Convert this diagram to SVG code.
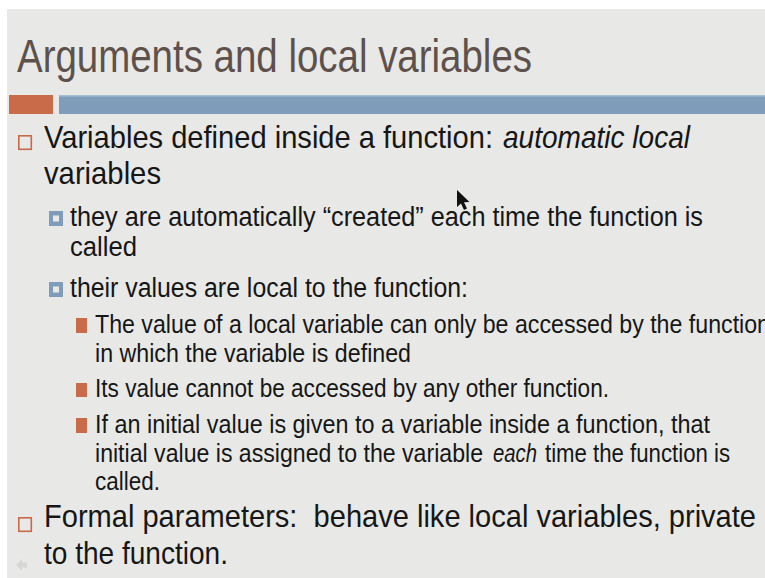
<svg xmlns="http://www.w3.org/2000/svg" width="765" height="578" viewBox="0 0 765 578">
<style>
text{font-family:"Liberation Sans","Noto Sans",Arial,sans-serif;fill:#161616}
.title{font-size:47px;fill:#5e514c}
.l1{font-size:32px}
.l2{font-size:27px}
.l3{font-size:25px}
.it{font-style:italic}
.b1{fill:none;stroke:#c8694a;stroke-width:1.6}
.b2{fill:#7f9dbb}
.b2i{fill:#e8e9e6}
.b3{fill:#c96a49}
</style>
<rect x="0" y="0" width="765" height="578" fill="#ffffff"/>
<rect x="7" y="9" width="758" height="569" fill="#e8e9e6"/>
<g id="title">
<text class="title" x="17" y="72" textLength="515" lengthAdjust="spacingAndGlyphs">Arguments and local variables</text>
</g>
<g id="bars">
<rect x="9" y="95" width="44" height="19" fill="#c96a49"/>
<rect x="59" y="95" width="706" height="19" fill="#7f9dbb"/>
<rect x="59" y="95" width="706" height="1.5" fill="#a7bdd2"/>
</g>
<g id="bullet1">
<rect class="b1" x="18.8" y="135.8" width="12.5" height="13.5"/>
<text class="l1" x="44" y="148" textLength="449" lengthAdjust="spacingAndGlyphs">Variables defined inside a function:</text>
<text class="l1 it" x="503" y="148" textLength="187" lengthAdjust="spacingAndGlyphs">automatic local</text>
<text class="l1" x="44" y="184" textLength="117" lengthAdjust="spacingAndGlyphs">variables</text>
</g>
<g id="bullet1-1">
<rect class="b2" x="49" y="211" width="14" height="15"/>
<rect class="b2i" x="53" y="215.5" width="6" height="6"/>
<text class="l2" x="70" y="226" textLength="633" lengthAdjust="spacingAndGlyphs">they are automatically “created” each time the function is</text>
<text class="l2" x="70" y="256" textLength="67" lengthAdjust="spacingAndGlyphs">called</text>
</g>
<g id="bullet1-2">
<rect class="b2" x="49" y="282" width="14" height="15"/>
<rect class="b2i" x="53" y="286.5" width="6" height="6"/>
<text class="l2" x="70" y="297" textLength="398" lengthAdjust="spacingAndGlyphs">their values are local to the function:</text>
</g>
<g id="bullet1-2-1">
<rect class="b3" x="76" y="318" width="11" height="15"/>
<text class="l3" x="95" y="333" textLength="675" lengthAdjust="spacingAndGlyphs">The value of a local variable can only be accessed by the function</text>
<text class="l3" x="95" y="362" textLength="316" lengthAdjust="spacingAndGlyphs">in which the variable is defined</text>
</g>
<g id="bullet1-2-2">
<rect class="b3" x="76" y="383" width="11" height="14"/>
<text class="l3" x="95" y="397" textLength="514" lengthAdjust="spacingAndGlyphs">Its value cannot be accessed by any other function.</text>
</g>
<g id="bullet1-2-3">
<rect class="b3" x="76" y="418" width="11" height="15"/>
<text class="l3" x="95" y="433" textLength="615" lengthAdjust="spacingAndGlyphs">If an initial value is given to a variable inside a function, that</text>
<text class="l3" x="95" y="462" textLength="388" lengthAdjust="spacingAndGlyphs">initial value is assigned to the variable</text>
<text class="l3 it" x="493" y="462" textLength="44" lengthAdjust="spacingAndGlyphs">each</text>
<text class="l3" x="545" y="462" textLength="185" lengthAdjust="spacingAndGlyphs">time the function is</text>
<text class="l3" x="95" y="490" textLength="65" lengthAdjust="spacingAndGlyphs">called.</text>
</g>
<g id="bullet2">
<rect class="b1" x="18.8" y="517.8" width="12.5" height="13.5"/>
<text class="l1" x="44" y="527" textLength="712" lengthAdjust="spacingAndGlyphs" xml:space="preserve">Formal parameters:  behave like local variables, private</text>
<text class="l1" x="44" y="564" textLength="184" lengthAdjust="spacingAndGlyphs">to the function.</text>
</g>
<g id="nav">
<path d="M16 565 L22 559 L22 562.5 L27 562.5 L27 567.5 L22 567.5 L22 571 Z" fill="#d6d7d4"/>
</g>
<g id="cursor">
<path d="M457 190 L457 207 L461 203.5 L464 210 L467 208.6 L464 202.3 L469.5 202 Z" fill="#111111"/>
</g>
</svg>
